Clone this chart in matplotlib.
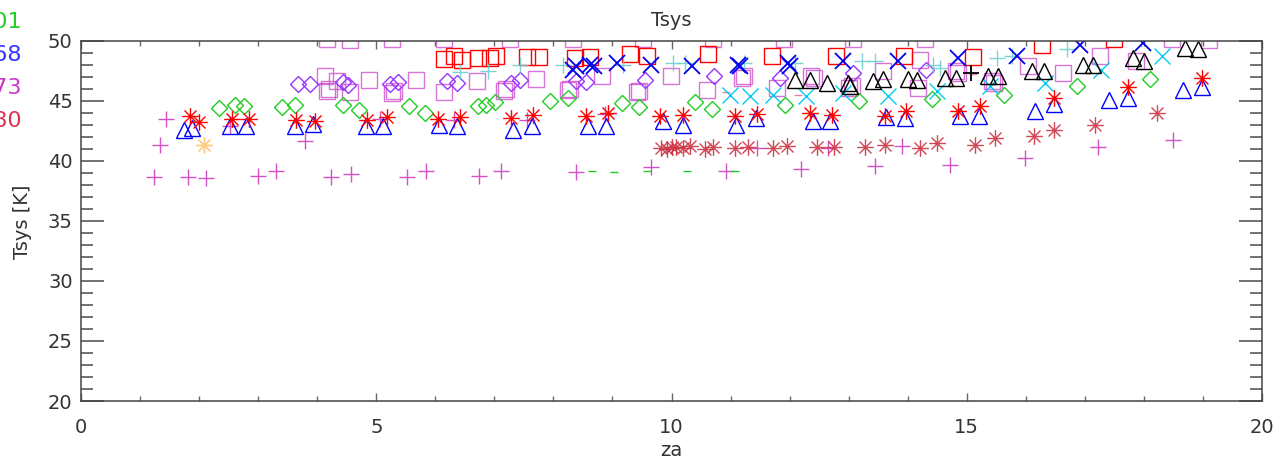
import matplotlib
matplotlib.use("Agg")
import matplotlib.pyplot as plt
from matplotlib.path import Path
from matplotlib.ticker import MultipleLocator
import numpy as np

# ---------------- data ----------------
red_ast_x = [1.85, 2.00, 2.55, 2.85, 3.64, 3.96, 4.84, 5.18, 6.05, 6.42, 7.29, 7.66, 8.55, 8.92,
             9.81, 10.20, 11.07, 11.45, 12.35, 12.71, 13.62, 13.97, 14.86, 15.22, 16.48, 17.73, 18.98]
red_ast_y = [43.75, 43.22, 43.47, 43.47, 43.42, 43.28, 43.42, 43.64, 43.47, 43.61, 43.56, 43.83, 43.69, 43.97,
             43.75, 43.83, 43.69, 43.89, 43.97, 43.83, 43.75, 44.17, 44.17, 44.53, 45.22, 46.14, 46.89]

blue_tri_x = [1.75, 1.88, 2.52, 2.79, 3.62, 3.93, 4.83, 5.12, 6.07, 6.36, 7.32, 7.63, 8.59, 8.89,
              9.85, 10.20, 11.10, 11.43, 12.39, 12.68, 13.64, 13.95, 14.89, 15.21, 16.16, 16.47,
              17.41, 17.73, 18.67, 18.98]
blue_tri_y = [42.58, 42.72, 42.86, 42.92, 42.86, 43.08, 42.86, 42.86, 43.00, 42.92, 42.58, 42.86, 42.86, 42.86,
              43.28, 43.00, 43.00, 43.56, 43.28, 43.28, 43.64, 43.56, 43.75, 43.75, 44.11, 44.75,
              45.03, 45.22, 45.86, 46.14]

green_dia_x = [2.34, 2.61, 2.76, 3.40, 3.62, 4.43, 4.70, 5.56, 5.83, 6.72, 6.86, 7.01, 7.94, 8.24,
               9.17, 9.45, 10.40, 10.69, 11.92, 13.17, 14.41, 15.63, 16.86, 18.10]
green_dia_y = [44.39, 44.67, 44.58, 44.47, 44.67, 44.67, 44.19, 44.53, 43.97, 44.53, 44.67, 44.86, 44.94, 45.22,
               44.81, 44.47, 44.86, 44.31, 44.67, 44.94, 45.14, 45.50, 46.25, 46.81]

purple_dia_x = [3.68, 3.88, 4.43, 4.53, 5.23, 5.36, 6.19, 6.36, 7.28, 7.43, 8.39, 8.56, 9.55,
                10.72, 11.84, 13.08, 14.31]
purple_dia_y = [46.42, 46.42, 46.53, 46.33, 46.42, 46.53, 46.61, 46.47, 46.47, 46.75, 46.61, 46.53, 46.69,
                47.03, 46.89, 47.31, 47.53]

red_sq_x = [6.14, 6.31, 6.46, 6.73, 6.93, 7.03, 7.55, 7.76, 8.37, 8.62, 9.30, 9.58, 10.61, 11.70,
            12.79, 13.94, 15.11, 16.27, 17.50]
red_sq_y = [48.47, 48.69, 48.36, 48.56, 48.56, 48.69, 48.61, 48.61, 48.56, 48.64, 48.92, 48.75, 48.92, 48.69,
            48.69, 48.75, 48.64, 49.67, 50.10]

mag_sq_x = [4.13, 4.33, 4.16, 4.56, 4.87, 5.26, 5.68, 6.14, 6.70, 7.16, 7.71, 8.25, 8.82, 9.41, 9.99,
            10.60, 11.19, 11.78, 12.37, 13.01, 13.59, 14.21, 14.18, 14.82, 15.42, 16.04, 16.63, 17.25, 17.87,
            4.16, 4.56, 5.26, 6.14, 7.27, 8.33, 9.52, 10.70, 11.90, 13.07, 14.29, 18.47, 19.10,
            4.20, 5.30, 7.20, 8.28, 9.45, 11.22, 12.42, 13.05, 14.86, 15.46]
mag_sq_y = [47.03, 46.61, 45.78, 45.69, 46.75, 45.64, 46.69, 45.72, 46.61, 45.78, 46.81, 45.86, 47.03, 45.69, 47.03,
            45.86, 46.89, 46.06, 47.03, 46.06, 47.44, 48.36, 46.06, 47.44, 46.61, 47.92, 47.31, 48.69, 48.28,
            50.10, 50.05, 50.15, 50.15, 50.10, 50.15, 50.10, 50.10, 50.10, 50.15, 50.10, 50.10, 50.05,
            45.95, 45.80, 45.95, 46.00, 45.85, 47.10, 46.90, 46.20, 47.30, 46.45]

cyan_plus_x = [6.42, 6.90, 7.43, 8.17, 9.18, 10.02, 10.23, 11.22, 12.09, 13.22, 13.45, 14.43, 14.55,
               15.52, 15.76, 16.69, 17.95]
cyan_plus_y = [47.36, 47.44, 48.00, 48.00, 48.00, 48.14, 48.14, 48.14, 48.14, 48.28, 48.28, 48.00, 47.72,
               48.56, 48.69, 49.31, 50.10]

blue_x_x = [8.34, 8.39, 8.62, 8.68, 9.07, 9.66, 10.34, 11.13, 11.16, 11.98, 12.01, 12.91, 13.84,
            14.86, 15.85, 16.92, 17.99]
blue_x_y = [47.58, 47.86, 48.00, 47.86, 48.14, 48.00, 47.86, 48.00, 47.86, 48.14, 47.86, 48.28, 48.28,
            48.56, 48.75, 49.67, 49.81]

cyan_x_x = [10.99, 11.33, 11.72, 12.28, 12.91, 13.67, 14.49, 15.39, 16.33, 17.28, 18.30]
cyan_x_y = [45.50, 45.36, 45.50, 45.42, 45.64, 45.36, 45.78, 46.19, 46.47, 47.53, 48.69]

black_tri_x = [12.09, 12.35, 12.63, 12.99, 13.02, 13.42, 13.59, 14.01, 14.15, 14.63, 14.82, 15.36, 15.53,
               16.10, 16.31, 16.97, 17.14, 17.81, 18.00, 18.70, 18.92]
black_tri_y = [46.75, 46.75, 46.47, 46.47, 46.19, 46.61, 46.81, 46.81, 46.75, 46.89, 46.89, 47.03, 47.03,
               47.44, 47.44, 48.00, 48.00, 48.56, 48.28, 49.39, 49.31]

black_plus_x = [15.08]
black_plus_y = [47.31]

crim_ast_x = [9.83, 9.92, 10.00, 10.08, 10.19, 10.31, 10.57, 10.70, 11.08, 11.30, 11.72, 11.96, 12.46, 12.75,
              13.28, 13.62, 14.20, 14.50, 15.14, 15.48, 16.14, 16.48, 17.17, 18.23]
crim_ast_y = [41.06, 40.97, 41.14, 41.14, 41.08, 41.25, 40.97, 41.19, 41.06, 41.14, 41.06, 41.25, 41.14, 41.14,
              41.14, 41.33, 41.06, 41.47, 41.33, 41.89, 42.03, 42.58, 43.00, 43.97]

mag_plus_x = [1.44, 1.34, 1.24, 1.82, 2.12, 3.00, 3.31, 2.52, 3.79, 4.24, 4.58, 5.52, 5.85, 6.74, 7.12,
              8.39, 9.66, 10.93, 12.20, 13.45, 13.91, 14.72, 15.99, 17.23, 18.49, 5.06, 6.31, 7.55, 8.87,
              11.44, 12.65]
mag_plus_y = [43.47, 41.33, 38.69, 38.61, 38.56, 38.75, 39.11, 42.86, 41.61, 38.69, 38.92, 38.69, 39.11, 38.75,
              39.11, 39.03, 39.45, 39.11, 39.31, 39.55, 41.25, 39.67, 40.22, 41.14, 41.75, 43.47, 43.42, 43.42,
              43.92, 41.06, 41.08]

green_dash_x = [8.65, 9.03, 9.58, 10.26, 11.08]
green_dash_y = [39.11, 39.03, 39.19, 39.11, 39.11]

pink_dash_x = [10.93, 12.15, 15.10]
pink_dash_y = [45.69, 45.50, 47.20]

orange_ast_x = [2.08]
orange_ast_y = [41.33]

legend_texts = ["1126", "1101", "1168", "1173", "1180"]
legend_colors = ["#ff0000", "#22cc22", "#3333ff", "#cc33cc", "#dd3355"]

# ---------------- figure ----------------
W, H = 1287, 461
fig = plt.figure(figsize=(W / 100, H / 100), dpi=100)
x0, x1, y0, y1 = 81, 1262, 40.7, 401
ax = fig.add_axes([x0 / W, 1 - y1 / H, (x1 - x0) / W, (y1 - y0) / H])
ax.set_xlim(0, 20)
ax.set_ylim(20, 50)

# asterisk marker
d = 0.72
ast = Path([(0, -1), (0, 1), (-1, 0), (1, 0), (-d, -d), (d, d), (-d, d), (d, -d)],
           [Path.MOVETO, Path.LINETO] * 4)

lw = 1.0
def sc(x, y, marker, color, ms, alpha=1.0, mew=lw):
    ax.plot(x, y, linestyle='none', marker=marker, markersize=ms,
            markerfacecolor='none', markeredgecolor=color, markeredgewidth=mew,
            alpha=alpha, clip_on=True)

sc(mag_plus_x, mag_plus_y, '+', '#cc33bb', 12, alpha=0.85)
sc(green_dash_x, green_dash_y, '_', '#22cc22', 6)
sc(pink_dash_x, pink_dash_y, '_', '#dd6688', 6, alpha=0.8)
sc(mag_sq_x, mag_sq_y, 's', '#cc44cc', 12, alpha=0.75)
sc(purple_dia_x, purple_dia_y, 'D', '#9933ff', 8.5)
sc(green_dia_x, green_dia_y, 'D', '#22cc22', 8.5)
sc(red_sq_x, red_sq_y, 's', '#ff0000', 12)
sc(cyan_plus_x, cyan_plus_y, '+', '#66cccc', 12, alpha=0.85)
sc(blue_x_x, blue_x_y, 'x', '#0000ee', 12, mew=1.3)
sc(cyan_x_x, cyan_x_y, 'x', '#00ccee', 12)
sc(black_tri_x, black_tri_y, '^', '#000000', 12)
sc(black_plus_x, black_plus_y, '+', '#000000', 12, mew=1.3)
sc(crim_ast_x, crim_ast_y, ast, '#cc3344', 12, alpha=0.9)
sc(blue_tri_x, blue_tri_y, '^', '#0000ff', 12)
sc(red_ast_x, red_ast_y, ast, '#ff0000', 12)
sc(orange_ast_x, orange_ast_y, ast, '#ffcc88', 12, mew=1.3)

# axes styling
for s in ax.spines.values():
    s.set_color('#444444')
    s.set_linewidth(1.1)
ax.xaxis.set_major_locator(MultipleLocator(5))
ax.xaxis.set_minor_locator(MultipleLocator(1))
ax.yaxis.set_major_locator(MultipleLocator(5))
ax.yaxis.set_minor_locator(MultipleLocator(1))
ax.tick_params(axis='both', which='both', direction='in', top=True, right=True,
               color='#666666', labelcolor='#333333', labelsize=14)
ax.tick_params(axis='y', which='major', length=16.5, width=1.3, pad=6)
ax.tick_params(axis='y', which='minor', length=8.5, width=1.3)
ax.tick_params(axis='x', which='major', length=5.8, width=1.0, pad=12)
ax.tick_params(axis='x', which='minor', length=3.6, width=1.0)

# texts
fig.text(671 / W, 1 - 20 / H, "Tsys", ha='center', va='center', fontsize=14, color='#333333')
fig.text(671 / W, 1 - 450 / H, "za", ha='center', va='center', fontsize=14, color='#333333')
fig.text(22 / W, 1 - 222 / H, "Tsys [K]", ha='center', va='center', rotation=90,
         fontsize=14, color='#333333')

# legend entries at the left edge (partly outside the figure, as in the reference)
for i, (t, c) in enumerate(zip(legend_texts, legend_colors)):
    yy = -11 + 33 * i
    fig.text(22 / W, 1 - yy / H, t, ha='right', va='center', fontsize=16, color=c)

fig.savefig("out.png", dpi=100)
